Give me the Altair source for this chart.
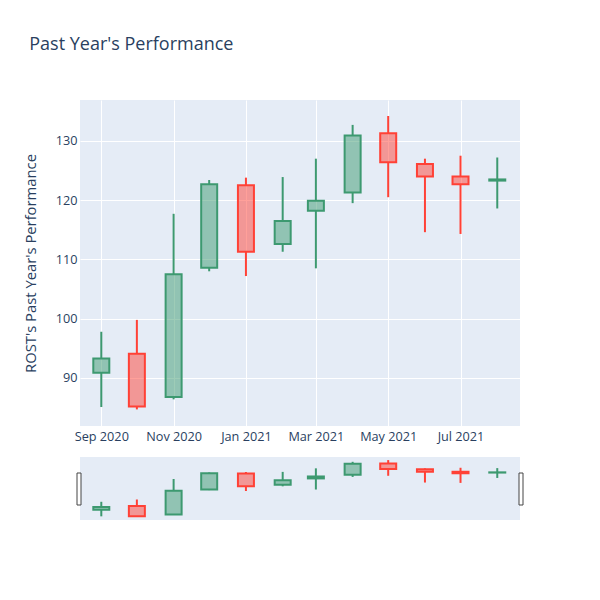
import altair as alt
import pandas as pd

dates = ["2020-09-01", "2020-10-01", "2020-11-01", "2020-12-01", "2021-01-01", "2021-02-01",
         "2021-03-01", "2021-04-01", "2021-05-01", "2021-06-01", "2021-07-01", "2021-08-01"]
open_ = [90.9, 94.1, 86.8, 108.6, 122.5, 112.6, 118.2, 121.3, 131.3, 126.1, 124.0, 123.3]
high = [97.8, 99.8, 117.7, 123.4, 123.8, 123.9, 127.0, 132.7, 134.2, 127.0, 127.5, 127.2]
low = [85.1, 84.7, 86.4, 108.0, 107.2, 111.3, 108.5, 119.5, 120.5, 114.6, 114.3, 118.6]
close = [93.3, 85.2, 107.5, 122.7, 111.3, 116.5, 119.9, 130.9, 126.4, 124.0, 122.7, 123.5]

df = pd.DataFrame({"date": dates, "open": open_, "high": high, "low": low, "close": close})
df["dir"] = ["up" if c >= o else "down" for o, c in zip(df["open"], df["close"])]
df["bot"] = df[["open", "close"]].min(axis=1)
df["top"] = df[["open", "close"]].max(axis=1)

TXT = "#2a3f5f"
FONT = "Open Sans"
color = alt.Color("dir:N", scale=alt.Scale(domain=["up", "down"], range=["#3D9970", "#FF4136"]), legend=None)

xdomain = [alt.DateTime(year=2020, month=8, date=18, hours=6, utc=True),
           alt.DateTime(year=2021, month=8, date=15, hours=23, utc=True)]
tickvals = [alt.DateTime(year=y, month=m, date=1, utc=True) for y, m in
            [(2020, 9), (2020, 11), (2021, 1), (2021, 3), (2021, 5), (2021, 7)]]
ydomain = [81.9, 136.9]

def xenc(show):
    if show:
        ax = alt.Axis(values=tickvals, labelExpr="utcFormat(datum.value, '%b %Y')", title=None, ticks=False,
                      domain=False, grid=True, gridColor="white", gridWidth=1, labelColor=TXT, labelFont=FONT,
                      labelFontSize=12.7, labelPadding=4, labelFlush=False)
    else:
        ax = None
    return alt.X("date:T", scale=alt.Scale(type="utc", domain=xdomain), axis=ax)

def yenc(field, show):
    if show:
        ax = alt.Axis(values=[90, 100, 110, 120, 130], title="ROST's Past Year's Performance", ticks=False,
                      domain=False, grid=True, gridColor="white", gridWidth=1, labelColor=TXT, labelFont=FONT,
                      labelFontSize=12.7, labelPadding=3, titleColor=TXT, titleFont=FONT, titleFontSize=14.8,
                      titleFontWeight="normal", titlePadding=17)
    else:
        ax = None
    return alt.Y(field + ":Q", scale=alt.Scale(domain=ydomain, nice=False, zero=False), axis=ax)

def candles(show, w, h):
    base = alt.Chart(df)
    lower = base.mark_rule(strokeWidth=2).encode(x=xenc(show), y=yenc("low", show), y2="bot:Q", color=color)
    upper = base.mark_rule(strokeWidth=2).encode(x=xenc(show), y=yenc("top", show), y2="high:Q", color=color)
    body = base.mark_bar(size=16, strokeWidth=2, fillOpacity=0.5).encode(
        x=xenc(show), y=yenc("open", show), y2="close:Q", color=color, stroke=color)
    return alt.layer(lower, upper, body).properties(width=w, height=h)

main = candles(True, 440, 326)
slider = candles(False, 440, 63)

hdf = pd.DataFrame({"side": ["l"]})
hl = alt.Chart(hdf).mark_rect(fill="white", stroke="#444", strokeWidth=1).encode(
    x=alt.value(-3), x2=alt.value(1), y=alt.value(16), y2=alt.value(48))
hr = alt.Chart(hdf).mark_rect(fill="white", stroke="#444", strokeWidth=1).encode(
    x=alt.value(439), x2=alt.value(443), y=alt.value(16), y2=alt.value(48))
slider = alt.layer(slider, hl, hr).properties(width=440, height=63)

chart = alt.vconcat(main, slider, spacing=14).properties(
    title=alt.TitleParams("Past Year's Performance", anchor="start", fontSize=18, font=FONT, color=TXT,
                          fontWeight="normal", offset=46, dx=6),
    padding={"left": 15, "top": 28, "right": 10, "bottom": 10},
    background="white",
).configure_view(fill="#E5ECF6", stroke=None)

chart.save("out.html", embed_options={"renderer": "svg", "actions": False})
